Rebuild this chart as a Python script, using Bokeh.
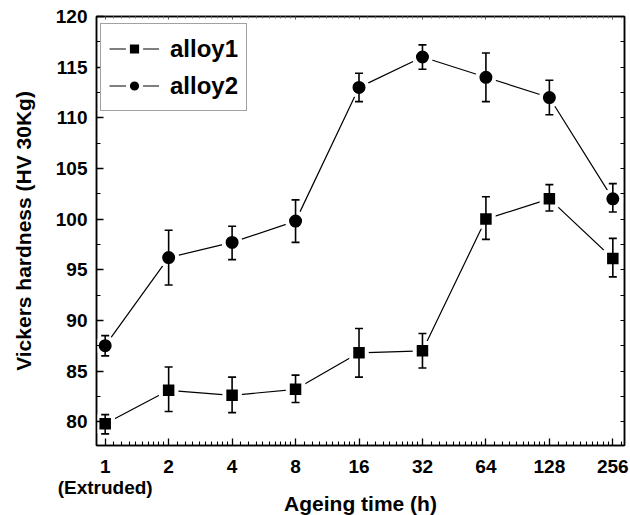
from bokeh.plotting import figure
from bokeh.models import (Range1d, FixedTicker, LogAxis, LinearAxis, Whisker,
                          ColumnDataSource, Legend, LegendItem, TeeHead)
from bokeh.embed import file_html
from bokeh.resources import INLINE

# ---- data ----
hours = [1, 2, 4, 8, 16, 32, 64, 128, 256]
tick_labels = ["1\n(Extruded)", "2", "4", "8", "16", "32", "64", "128", "256"]

alloy1 = [79.8, 83.1, 82.6, 83.2, 86.8, 87.0, 100.0, 102.0, 96.1]
alloy1_upper = [80.7, 85.4, 84.4, 84.6, 89.2, 88.7, 102.2, 103.4, 98.1]
alloy1_lower = [78.8, 81.0, 80.9, 81.9, 84.4, 85.3, 98.0, 100.8, 94.3]

alloy2 = [87.5, 96.2, 97.7, 99.8, 113.0, 116.0, 114.0, 112.0, 102.0]
alloy2_upper = [88.5, 98.9, 99.3, 101.9, 114.4, 117.2, 116.4, 113.7, 103.5]
alloy2_lower = [86.5, 93.5, 96.0, 97.7, 111.6, 114.8, 111.6, 110.3, 100.7]

y_ticks = [80, 85, 90, 95, 100, 105, 110, 115, 120]
y_minor = [77.5, 82.5, 87.5, 92.5, 97.5, 102.5, 107.5, 112.5, 117.5]
right_ticks = [77.5 + 2.5 * i for i in range(18)]
x_minor = [h * (1 + 0.1 * j) for h in hours for j in range(1, 10)]

FONT = "Liberation Sans"
FW, FH = 528, 429

src1 = ColumnDataSource(dict(x=hours, y=alloy1, up=alloy1_upper, lo=alloy1_lower))
src2 = ColumnDataSource(dict(x=hours, y=alloy2, up=alloy2_upper, lo=alloy2_lower))

p = figure(frame_width=FW, frame_height=FH, x_axis_type="log",
           x_range=Range1d(0.9095, 290.8), y_range=Range1d(77.65, 120.0),
           output_backend="svg", toolbar_location=None,
           min_border_left=96, min_border_right=5, min_border_top=16, min_border_bottom=0)
p.xgrid.visible = False
p.ygrid.visible = False
p.outline_line_color = "black"
p.outline_line_width = 1.5
p.background_fill_color = "white"
p.border_fill_color = "white"

# connecting lines
l1 = p.line("x", "y", source=src1, line_color="black", line_width=1.2)
l2 = p.line("x", "y", source=src2, line_color="black", line_width=1.2)
# markers with white halo (gap in line near marker)
s1 = p.scatter("x", "y", source=src1, marker="square", size=15.5,
               fill_color="black", line_color="white", line_width=4)
s2 = p.scatter("x", "y", source=src2, marker="circle", size=17,
               fill_color="black", line_color="white", line_width=4)

# error bars
for src in (src1, src2):
    w = Whisker(base="x", upper="up", lower="lo", source=src, level="overlay",
                line_color="black", line_width=1.6,
                upper_head=TeeHead(size=8, line_color="black", line_width=1.6),
                lower_head=TeeHead(size=8, line_color="black", line_width=1.6))
    p.add_layout(w)

# bottom axis
xa = p.xaxis[0]
xa.ticker = FixedTicker(ticks=hours, minor_ticks=x_minor)
xa.major_label_overrides = {h: lab for h, lab in zip(hours, tick_labels)}
xa.axis_label = "Ageing time (h)"
# left axis
ya = p.yaxis[0]
ya.ticker = FixedTicker(ticks=y_ticks, minor_ticks=y_minor)
ya.axis_label = "Vickers hardness (HV 30Kg)"

for ax in (xa, ya):
    ax.major_tick_in = 7
    ax.major_tick_out = 0
    ax.minor_tick_in = 4
    ax.minor_tick_out = 0
    ax.axis_line_width = 1.5
    ax.axis_line_color = "black"
    ax.major_tick_line_color = "black"
    ax.minor_tick_line_color = "black"
    ax.major_tick_line_width = 1.3
    ax.minor_tick_line_width = 1.1
    ax.major_label_text_font = FONT
    ax.major_label_text_font_style = "bold"
    ax.major_label_text_font_size = "19px"
    ax.major_label_text_color = "black"
    ax.axis_label_text_font = FONT
    ax.axis_label_text_font_style = "bold"
    ax.axis_label_text_font_size = "21px"
    ax.axis_label_text_color = "black"

xa.major_label_standoff = 10
xa.major_label_text_line_height = 1.0
xa.axis_label_standoff = -9
ya.major_label_standoff = 9
ya.axis_label_standoff = 18

# top axis (small ticks only)
top = LogAxis(ticker=FixedTicker(ticks=hours, minor_ticks=x_minor),
              major_tick_in=3, major_tick_out=0, minor_tick_in=2, minor_tick_out=0,
              major_label_text_font_size="1px", major_label_text_color=None,
              major_label_standoff=0,
              axis_line_color="black", axis_line_width=1.5,
              major_tick_line_color="#555", minor_tick_line_color="#777")
p.add_layout(top, "above")

# right axis (ticks every 2.5, no labels)
right = LinearAxis(ticker=FixedTicker(ticks=right_ticks),
                   major_tick_in=4, major_tick_out=0, minor_tick_in=0, minor_tick_out=0,
                   major_label_text_font_size="1px", major_label_text_color=None,
                   major_label_standoff=0,
                   axis_line_color="black", axis_line_width=1.5,
                   major_tick_line_color="black", major_tick_line_width=1.1)
p.add_layout(right, "right")

legend = Legend(items=[LegendItem(label="alloy1", renderers=[l1, s1]),
                       LegendItem(label="alloy2", renderers=[l2, s2])],
                location=(4, FH - 9 - 86))
legend.label_text_font = FONT
legend.label_text_font_style = "bold"
legend.label_text_font_size = "24px"
legend.label_text_color = "black"
legend.glyph_width = 50
legend.glyph_height = 33
legend.label_height = 33
legend.label_standoff = 11
legend.padding = 8
legend.spacing = 4
legend.margin = 0
legend.border_line_color = "#444"
legend.border_line_width = 1.5
legend.background_fill_color = "white"
legend.background_fill_alpha = 1.0
p.add_layout(legend)

open("out.html", "w").write(file_html(p, INLINE))
